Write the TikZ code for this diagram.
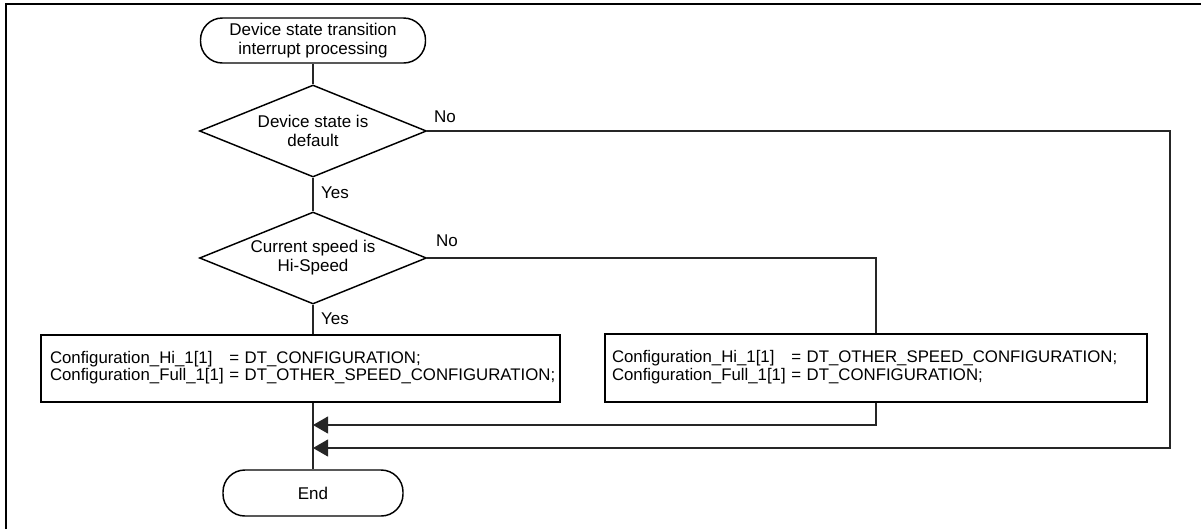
\documentclass[tikz,border=0pt]{standalone}
\usepackage{fontspec}
\setmainfont{Liberation Sans}
\usetikzlibrary{shapes.geometric,arrows.meta}
\begin{document}
\begin{tikzpicture}[x=0.75pt,y=-0.75pt,
  every node/.style={font=\fontsize{12.75}{14.25}\selectfont},
  term/.style={draw, line width=1.1pt, rectangle, rounded corners=16.4pt, inner sep=0pt, align=center},
  dec/.style={draw, line width=1.1pt, diamond, inner sep=0pt, minimum width=170.25pt, minimum height=69pt},
  lbl/.style={align=center, inner sep=0pt},
  procbox/.style={draw, line width=1.5pt, rectangle, inner ysep=0pt, align=left,
     font=\fontsize{12.6}{12.75}\selectfont},
  conn/.style={line width=0.8pt, draw=black!85},
  arr/.style={conn, -{Triangle[length=11.25pt, width=12.75pt]}},
  frame/.style={line width=1.5pt}
]
\useasboundingbox (0,0) rectangle (1201,529);
\draw[frame] (6,529) -- (6,4) -- (1201,4);

\node[term, minimum width=168.75pt, minimum height=33.75pt] (start) at (313,40.5)
  {Device state transition\\interrupt processing};
\node[dec] (d1) at (313,131) {};
\node[lbl] (d1t) at (d1) {Device state is\\default};
\node[dec] (d2) at (313,258) {};
\node[lbl] (d2t) at (d2) {Current speed is\\Hi-Speed};

\node[procbox, minimum height=50.25pt, text width=375.75pt, inner xsep=6.75pt] (b1) at (300.5,368.5)
  {\begin{tabular}{@{}l@{ }l@{}}Configuration\_Hi\_1[1] & = DT\_CONFIGURATION;\\
   Configuration\_Full\_1[1] & = DT\_OTHER\_SPEED\_CONFIGURATION;\end{tabular}};
\node[procbox, minimum height=51pt, text width=396pt, inner xsep=5.25pt] (b2) at (876,368)
  {\begin{tabular}{@{}l@{ }l@{}}Configuration\_Hi\_1[1] & = DT\_OTHER\_SPEED\_CONFIGURATION;\\
   Configuration\_Full\_1[1] & = DT\_CONFIGURATION;\end{tabular}};

\node[term, minimum width=135pt, minimum height=34.5pt] (end) at (313,493) {End};

\node[lbl] (no1) at (445,117) {No};
\node[lbl] (yes1) at (335,193) {Yes};
\node[lbl] (no2) at (447,241) {No};
\node[lbl] (yes2) at (335,319) {Yes};

\coordinate (j1) at (313,425);
\coordinate (j2) at (313,448);
\coordinate (c1) at (1170,300);

\draw[conn] (start) -- (d1);
\draw[conn] (d1) -- (d2);
\draw[conn] (d2.south) -- (d2.south |- b1.north);
\draw[conn] (d2.east) -| (b2.north);
\draw[conn] (end.north |- b1.south) -- (end.north);
\draw[arr] (b2.south) |- (j1);
\draw[arr] (d1.east) -| (c1) |- (j2);
\end{tikzpicture}
\end{document}
